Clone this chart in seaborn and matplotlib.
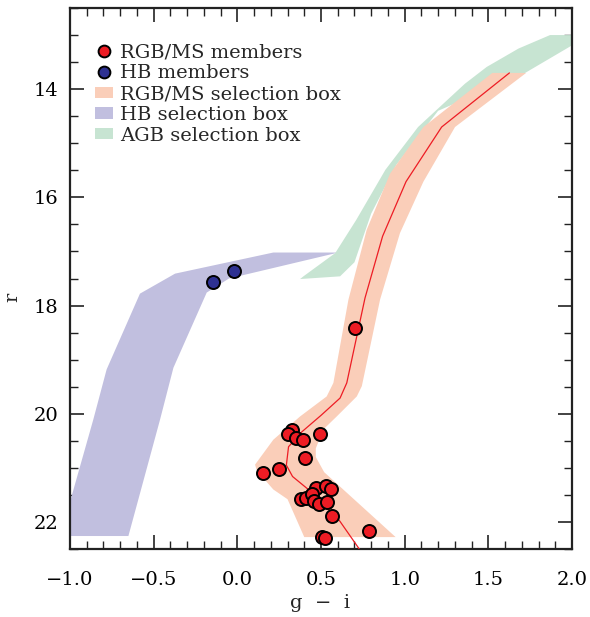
import numpy as np
import pandas as pd
import matplotlib
matplotlib.use("Agg")
import matplotlib.pyplot as plt
import seaborn as sns
from matplotlib.ticker import MultipleLocator, FuncFormatter
from matplotlib.lines import Line2D
from matplotlib.patches import Patch

# ---- data: member stars ----
rgb_gi = [0.703, 0.326, 0.301, 0.351, 0.393, 0.497, 0.402, 0.155, 0.249, 0.469,
          0.527, 0.560, 0.381, 0.408, 0.444, 0.458, 0.491, 0.533, 0.566, 0.784,
          0.503, 0.521]
rgb_r = [18.41, 20.30, 20.38, 20.45, 20.49, 20.38, 20.81, 21.09, 21.03, 21.38,
         21.34, 21.39, 21.58, 21.56, 21.49, 21.62, 21.67, 21.64, 21.89, 22.17,
         22.27, 22.30]
hb_gi = [-0.143, -0.020]
hb_r = [17.56, 17.37]

# ---- RGB/MS ridge line ----
ridge_gi = [1.626, 1.221, 1.008, 0.868, 0.763, 0.654, 0.614, 0.500, 0.387, 0.306,
            0.293, 0.330, 0.448, 0.600, 0.740, 0.780]
ridge_r = [13.70, 14.70, 15.71, 16.72, 17.86, 19.43, 19.71, 20.03, 20.33, 20.61,
           20.95, 21.16, 21.46, 21.93, 22.55, 22.70]

# ---- RGB/MS selection box (left edge top->bottom, right edge bottom->top) ----
rgb_left_gi = [1.524, 1.112, 0.913, 0.773, 0.664, 0.574, 0.534, 0.375, 0.215, 0.106,
               0.116, 0.215, 0.300, 0.400]
rgb_left_r = [13.70, 14.70, 15.56, 16.60, 17.89, 19.43, 19.68, 20.05, 20.48, 20.94,
              21.05, 21.40, 21.58, 22.28]
rgb_right_gi = [0.946, 0.519, 0.469, 0.469, 0.514, 0.594, 0.714, 0.744, 0.853, 0.972,
                1.112, 1.301, 1.726]
rgb_right_r = [22.28, 21.08, 20.80, 20.64, 20.29, 20.05, 19.68, 19.49, 17.89, 16.66,
               15.71, 14.70, 13.70]

# ---- HB selection box ----
hb_box_gi = [0.604, 0.215, -0.372, -0.582, -0.781, -0.861, -0.990, -1.060,
             -0.651, -0.462, -0.382, -0.183, -0.050, 0.604]
hb_box_r = [17.02, 17.02, 17.41, 17.78, 19.18, 20.11, 21.52, 22.26,
            22.26, 20.11, 19.15, 17.76, 17.50, 17.02]

# ---- AGB selection box ----
agb_box_gi = [2.050, 1.869, 1.680, 1.490, 1.360, 1.080, 0.885, 0.710, 0.585, 0.395,
              0.375, 0.614, 0.700, 0.800, 0.950, 1.200, 1.720, 2.050]
agb_box_r = [13.00, 13.00, 13.25, 13.59, 13.90, 14.70, 15.49, 16.42, 17.03, 17.46,
             17.51, 17.46, 17.20, 16.30, 15.40, 14.40, 13.70, 13.10]

legend_labels = ["RGB/MS members", "HB members", "RGB/MS selection box",
                 "HB selection box", "AGB selection box"]

# ---- style ----
sns.set_theme(style="ticks")
plt.rcParams['font.family'] = ['DejaVu Serif', 'DejaVu Sans']

c_red = "#ED1C24"
c_navy = "#2E3192"
c_rgb = "#FACEB9"
c_hb = "#C1BFDF"
c_agb = "#C7E4D2"

fig = plt.figure(figsize=(5.9, 6.17), dpi=100)
ax = fig.add_axes([70 / 590, 1 - 549 / 617, 502 / 590, 541 / 617])

ax.fill(hb_box_gi, hb_box_r, color=c_hb, lw=0, zorder=1)
ax.fill(agb_box_gi, agb_box_r, color=c_agb, lw=0, zorder=2)
ax.fill(rgb_left_gi + rgb_right_gi, rgb_left_r + rgb_right_r, color=c_rgb, lw=0, zorder=3)

sns.lineplot(x=ridge_gi, y=ridge_r, sort=False, estimator=None, color=c_red,
             lw=0.9, ax=ax, zorder=4)
sns.scatterplot(x=rgb_gi, y=rgb_r, s=88, color=c_red, edgecolor="black",
                linewidth=1.4, ax=ax, zorder=5)
sns.scatterplot(x=hb_gi, y=hb_r, s=88, color=c_navy, edgecolor="black",
                linewidth=1.4, ax=ax, zorder=5)

ax.set_xlim(-1.0, 2.0)
ax.set_ylim(22.5, 12.5)
ax.xaxis.set_major_locator(MultipleLocator(0.5))
ax.xaxis.set_minor_locator(MultipleLocator(0.1))
ax.yaxis.set_major_locator(MultipleLocator(2))
ax.yaxis.set_minor_locator(MultipleLocator(0.5))
ax.xaxis.set_major_formatter(FuncFormatter(lambda v, p: f"{v:.1f}".replace("-", "\u2212")))
ax.yaxis.set_major_formatter(FuncFormatter(lambda v, p: f"{v:.0f}"))
ax.tick_params(which='both', direction='in', top=True, right=True,
               color='#222222', labelsize=14, labelcolor='black')
ax.tick_params(which='major', length=10, width=1.2)
ax.tick_params(which='minor', length=5.5, width=1.0)
ax.tick_params(axis='x', which='major', pad=16)
ax.tick_params(axis='y', which='major', pad=8.5)
for sp in ax.spines.values():
    sp.set_linewidth(1.6)
    sp.set_color('#222222')

ax.set_xlabel("g  \u2212  i", fontsize=14, va='center')
ax.xaxis.set_label_coords(0.498, -0.0998)
ax.set_ylabel("r", fontsize=14, va='center')
ax.yaxis.set_label_coords(-0.1155, 0.466)

handles = [
    Line2D([], [], marker='o', ls='', markerfacecolor=c_red, markeredgecolor='black',
           markeredgewidth=1.4, markersize=8.5),
    Line2D([], [], marker='o', ls='', markerfacecolor=c_navy, markeredgecolor='black',
           markeredgewidth=1.4, markersize=8.5),
    Patch(facecolor=c_rgb, edgecolor='none'),
    Patch(facecolor=c_hb, edgecolor='none'),
    Patch(facecolor=c_agb, edgecolor='none'),
]
ax.legend(handles, legend_labels, loc='upper left', bbox_to_anchor=(0.05, 0.934),
          frameon=False, fontsize=14, handlelength=0.9, handleheight=0.5,
          handletextpad=0.4, labelspacing=0.14, borderpad=0, borderaxespad=0)

fig.savefig("out.png", dpi=100)
